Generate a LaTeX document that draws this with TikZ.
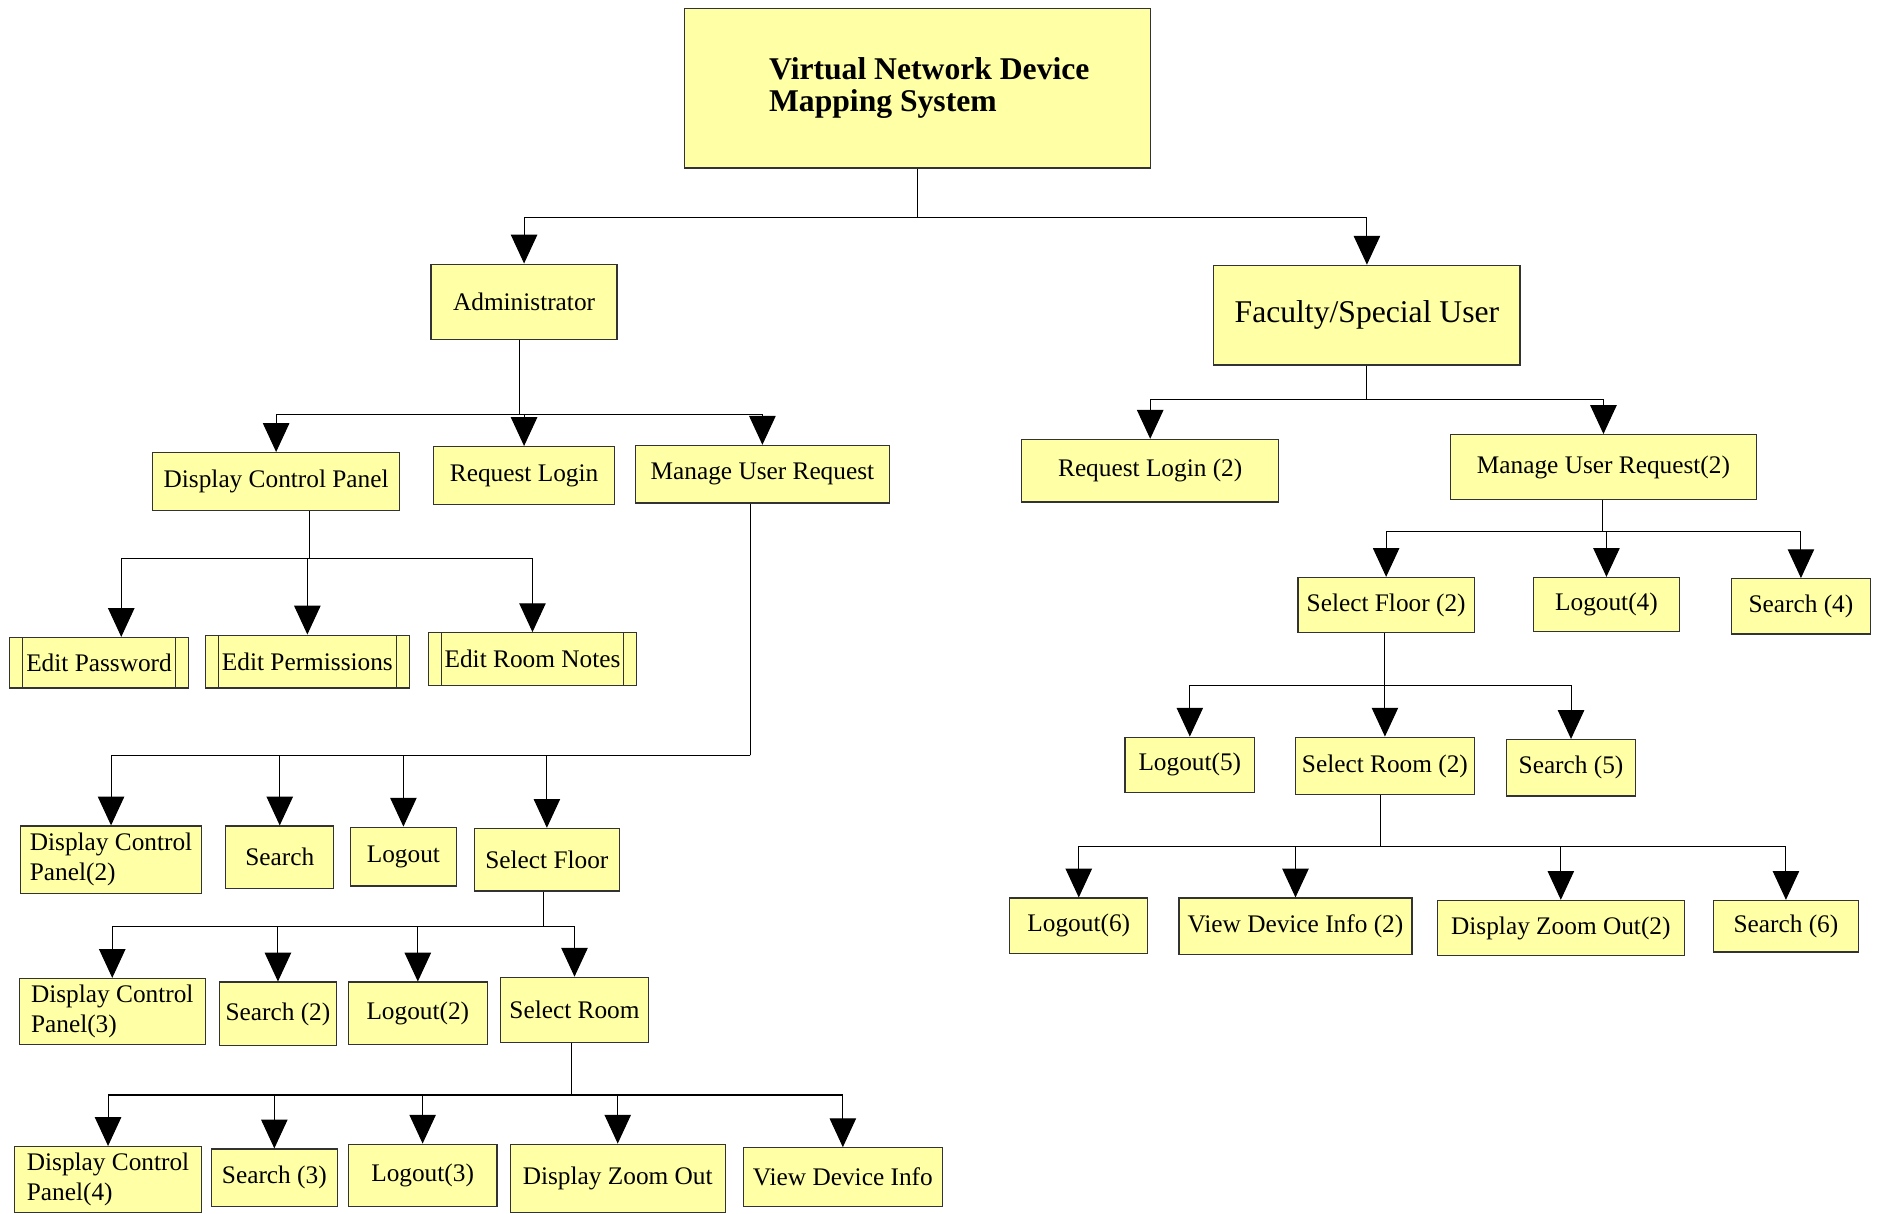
\documentclass[tikz,border=0pt]{standalone}
\usepackage{fontspec}
\setmainfont{Liberation Serif}
\usepackage{tikz}
\usepackage{xcolor}
\usetikzlibrary{arrows.meta, calc, positioning}
\definecolor{boxyellow}{HTML}{FFFFA5}
\definecolor{boxline}{HTML}{333333}
\tikzset{
  %module box style
  module/.style={
    draw=boxline
    , fill=boxyellow
    , line width=0.6pt
    , anchor=center
    , inner sep=2pt
    , font=\fontsize{12}{14.2}\selectfont
    %, rounded corners
  },
  %box size in picture units
  boxsize/.style 2 args={
    minimum width=#1*0.02cm
    , minimum height=#2*0.02cm
  },
  %predefined process (double side bars)
  subproc/.style={
    module
    , path picture={
        \draw[boxline, line width=0.6pt]
          ([xshift=0.22cm]path picture bounding box.north west)
          -- ([xshift=0.22cm]path picture bounding box.south west)
          ([xshift=-0.22cm]path picture bounding box.north east)
          -- ([xshift=-0.22cm]path picture bounding box.south east);
      }
  },
  link/.style={
    draw=black
    , line width=0.5pt
  },
  arr/.style={
    link
    , -{Triangle[length=0.48cm, width=0.44cm, fill=black]}
  },
}

\begin{document}
\begin{tikzpicture}[x=0.02cm, y=-0.02cm]
  \useasboundingbox (0,0) rectangle (1570,1011);

  % root
  \node[module, boxsize={388}{133}, align=left,
        font=\fontsize{15}{15}\selectfont\bfseries] (title) at (764,73.5)
        {\hspace*{0.4cm}Virtual Network Device\\\hspace*{0.4cm}Mapping System};

  % first level
  \node[module, boxsize={155}{63}] (admin) at (436.5,251.5) {Administrator};
  \node[module, boxsize={255}{83}, font=\fontsize{15}{17}\selectfont] (fac) at (1138.5,262.5) {Faculty/Special User};

  % administrator branch
  \node[module, boxsize={206}{48}] (dcp) at (230,401) {Display Control Panel};
  \node[module, boxsize={151}{48}] (rl) at (436.5,396) {Request Login};
  \node[module, boxsize={212}{48}] (mur) at (635,395) {Manage User Request};

  \node[subproc, boxsize={149}{42}] (epw) at (82.5,552) {Edit Password};
  \node[subproc, boxsize={170}{44}] (epm) at (256,551) {Edit Permissions};
  \node[subproc, boxsize={173}{44}] (ern) at (443.5,549) {Edit Room Notes};

  \node[module, boxsize={151}{56}, align=left] (dcpb) at (92.5,716) {Display Control\\Panel(2)};
  \node[module, boxsize={90}{52}] (srch) at (233,714) {Search};
  \node[module, boxsize={88}{49}] (lgo) at (336,713.5) {Logout};
  \node[module, boxsize={121}{52}] (sf) at (455.5,716) {Select Floor};

  \node[module, boxsize={155}{55}, align=left] (dcpc) at (93.5,842.5) {Display Control\\Panel(3)};
  \node[module, boxsize={97}{53}] (srchb) at (231.5,844.5) {Search (2)};
  \node[module, boxsize={116}{52}] (lgob) at (348,844) {Logout(2)};
  \node[module, boxsize={123}{54}] (sr) at (478.5,841) {Select Room};

  \node[module, boxsize={156}{55}, align=left] (dcpd) at (90,982.5) {Display Control\\Panel(4)};
  \node[module, boxsize={105}{48}] (srchc) at (228.5,981) {Search (3)};
  \node[module, boxsize={124}{52}] (lgoc) at (352,979) {Logout(3)};
  \node[module, boxsize={179}{57}] (dzo) at (514.5,981.5) {Display Zoom Out};
  \node[module, boxsize={166}{49}] (vdi) at (702,980.5) {View Device Info};

  % faculty branch
  \node[module, boxsize={214}{52}] (rlb) at (958,392) {Request Login (2)};
  \node[module, boxsize={255}{54}] (murb) at (1335.5,389) {Manage User Request(2)};

  \node[module, boxsize={147}{46}] (sfb) at (1154.5,504) {Select Floor (2)};
  \node[module, boxsize={122}{45}] (lgod) at (1338,503.5) {Logout(4)};
  \node[module, boxsize={116}{46}] (srchd) at (1500,505) {Search (4)};

  \node[module, boxsize={108}{46}] (lgoe) at (991,637) {Logout(5)};
  \node[module, boxsize={149}{48}] (srb) at (1153.5,638) {Select Room (2)};
  \node[module, boxsize={107}{47}] (srche) at (1308.5,639.5) {Search (5)};

  \node[module, boxsize={115}{46}] (lgof) at (898.5,771) {Logout(6)};
  \node[module, boxsize={194}{47}] (vdib) at (1079,771.5) {View Device Info (2)};
  \node[module, boxsize={206}{46}] (dzob) at (1300,773) {Display Zoom Out(2)};
  \node[module, boxsize={121}{43}] (srchf) at (1487.5,771.5) {Search (6)};

  % junctions
  \coordinate (jt) at (764,181);
  \coordinate (ja) at (433,345);
  \coordinate (jd) at (258,465);
  \coordinate (jm) at (625,629);
  \coordinate (jf) at (453,772);
  \coordinate (jr) at (476,912);
  \coordinate (jfa) at (1138,333);
  \coordinate (jmb) at (1335,443);
  \coordinate (jfb) at (1153,571);
  \coordinate (jrb) at (1150,705);

  % stems
  \draw[link] (title.south -| jt) -- (jt);
  \draw[link] (admin.south -| ja) -- (ja);
  \draw[link] (dcp.south -| jd) -- (jd);
  \draw[link] (mur.south -| jm) -- (jm);
  \draw[link] (sf.south -| jf) -- (jf);
  \draw[link] (sr.south -| jr) -- (jr);
  \draw[link] (fac.south -| jfa) -- (jfa);
  \draw[link] (murb.south -| jmb) -- (jmb);
  \draw[link] (sfb.south -| jfb) -- (jfb);
  \draw[link] (srb.south -| jrb) -- (jrb);

  % arrows
  \foreach \c in {admin,fac} \draw[arr] (jt) -| (\c);
  \foreach \c in {dcp,rl,mur} \draw[arr] (ja) -| (\c);
  \draw[arr] (jd) -| ([xshift=0.37cm]epw.north);
  \foreach \c in {epm,ern} \draw[arr] (jd) -| (\c);
  \foreach \c in {dcpb,srch,lgo,sf} \draw[arr] (jm) -| (\c);
  \foreach \c in {dcpc,srchb,lgob,sr} \draw[arr] (jf) -| (\c);
  \foreach \c in {dcpd,srchc,lgoc,dzo,vdi} \draw[arr] (jr) -| (\c);
  \foreach \c in {rlb,murb} \draw[arr] (jfa) -| (\c);
  \foreach \c in {sfb,lgod,srchd} \draw[arr] (jmb) -| (\c);
  \foreach \c in {lgoe,srb,srche} \draw[arr] (jfb) -| (\c);
  \foreach \c in {lgof,vdib,dzob,srchf} \draw[arr] (jrb) -| (\c);
\end{tikzpicture}
\end{document}
